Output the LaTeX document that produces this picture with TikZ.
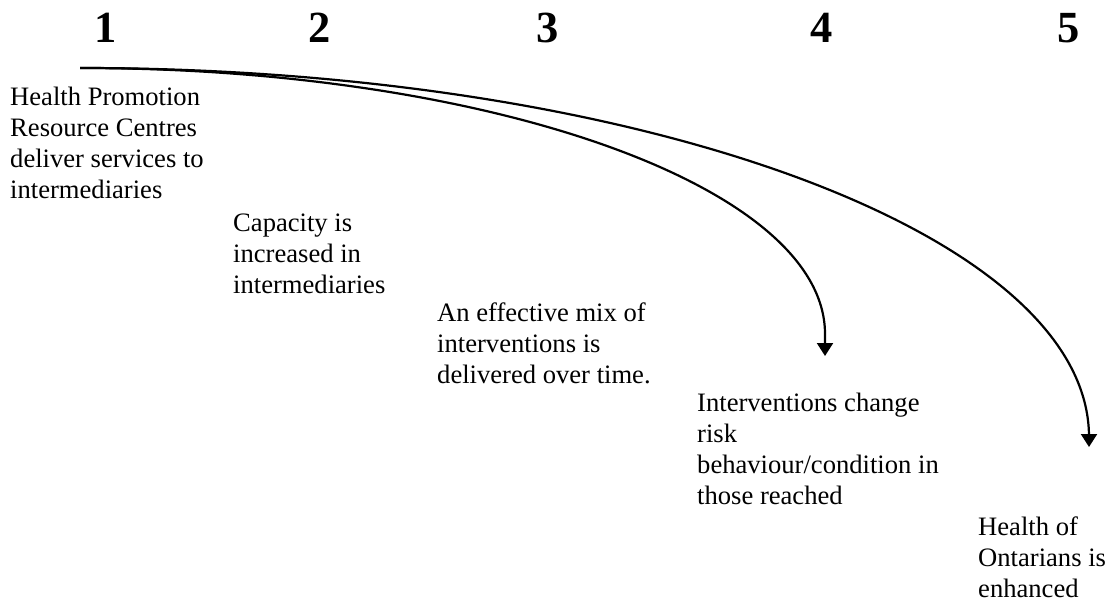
\documentclass[tikz,border=0pt]{standalone}
\usepackage{fontspec}
\setmainfont{Liberation Serif}
\usetikzlibrary{arrows.meta}
\tikzset{
  num/.style={font=\fontsize{44.5}{50}\selectfont\bfseries, inner sep=0pt, anchor=base},
  txt/.style={font=\fontsize{26.6}{31}\selectfont, align=left, inner sep=0pt, anchor=base west},
  flow/.style={line width=2.2pt, -{Triangle[width=16pt,length=13pt]}}
}
\begin{document}
\begin{tikzpicture}[x=1pt,y=-1pt]
\useasboundingbox (0,0) rectangle (1110,601);
\node[num] (n1) at (106,43) {1};
\node[num] (n2) at (320,43) {2};
\node[num] (n3) at (548,43) {3};
\node[num] (n4) at (822,43) {4};
\node[num] (n5) at (1069,43) {5};
% base anchor of a multi-line node = baseline of its last line
\node[txt] (t1) at (10,199) {Health Promotion\\Resource Centres\\deliver services to\\intermediaries};
\node[txt] (t2) at (233,294) {Capacity is\\increased in\\intermediaries};
\node[txt] (t3) at (437,383) {An effective mix of\\interventions is\\delivered over time.};
\node[txt] (t4) at (697,504) {Interventions change\\risk\\behaviour/condition in\\those reached};
\node[txt] (t5) at (978,597) {Health of\\Ontarians is\\enhanced};
\coordinate (s) at (80,68);
\coordinate (e1) at (825,356);
\coordinate (e2) at (1089,447);
\draw[flow] (s) .. controls (491,68) and (825,187) .. (825,334) -- (e1);
\draw[flow] (s) .. controls (637,68) and (1089,233) .. (1089,437) -- (e2);
\end{tikzpicture}
\end{document}
